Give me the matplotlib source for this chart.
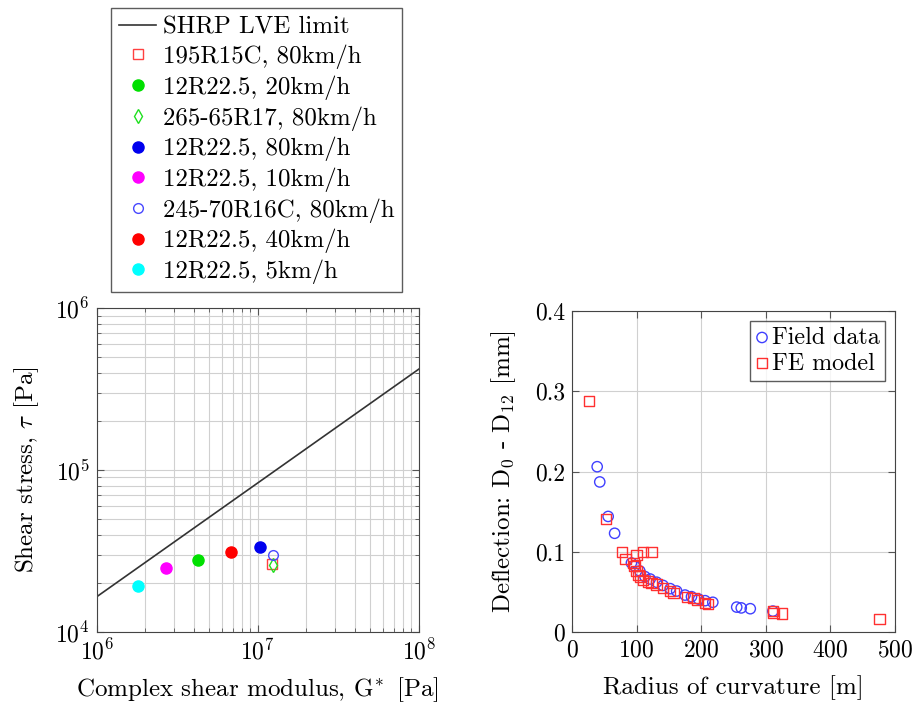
import numpy as np
import matplotlib
matplotlib.use("Agg")
import matplotlib.pyplot as plt
from matplotlib.ticker import LogLocator, NullFormatter

plt.rcParams['font.family'] = 'cmr10'
plt.rcParams['mathtext.fontset'] = 'cm'
plt.rcParams['axes.formatter.use_mathtext'] = True

# Left panel: SHRP limit line (end points) and tyre/speed cases
shrp_g = [1e6, 1e8]
shrp_tau = [1.65e4, 4.2e5]

cases = ['195R15C, 80km/h', '12R22.5, 20km/h', '265-65R17, 80km/h',
         '12R22.5, 80km/h', '12R22.5, 10km/h', '245-70R16C, 80km/h',
         '12R22.5, 40km/h', '12R22.5, 5km/h']
case_g = [1.23e7, 4.24e6, 1.24e7, 1.03e7, 2.70e6, 1.245e7, 6.79e6, 1.80e6]
case_tau = [2.62e4, 2.80e4, 2.58e4, 3.34e4, 2.49e4, 3.00e4, 3.14e4, 1.91e4]
case_marker = ['s', 'o', 'd', 'o', 'o', 'o', 'o', 'o']
case_color = ['#ff4040', '#00e000', '#20e020', '#0000ee', '#ff00ff', '#4848ff', '#ff0000', '#00ffff']
case_filled = [False, True, False, True, True, False, True, True]

# Right panel: deflection vs radius of curvature
field_r = [39, 43, 56, 66, 92, 97, 105, 113, 121, 131, 141, 152, 162, 175,
           185, 196, 206, 218, 255, 262, 276, 311]
field_d = [0.206, 0.187, 0.144, 0.123, 0.086, 0.082, 0.076, 0.069, 0.066,
           0.062, 0.058, 0.054, 0.051, 0.046, 0.044, 0.041, 0.039, 0.037,
           0.031, 0.030, 0.029, 0.026]
fe_r = [26, 53, 77, 83, 95, 97, 100, 100, 103, 105, 110, 110, 118, 123, 123,
        131, 141, 152, 157, 178, 188, 193, 206, 211, 311, 312, 325, 476]
fe_d = [0.288, 0.141, 0.100, 0.091, 0.086, 0.082, 0.096, 0.076, 0.071, 0.069,
        0.065, 0.100, 0.063, 0.061, 0.100, 0.059, 0.055, 0.051, 0.049, 0.044,
        0.042, 0.040, 0.036, 0.035, 0.026, 0.024, 0.023, 0.016]

fig = plt.figure(figsize=(9.14, 7.1), dpi=100)
ax1 = fig.add_axes([0.1058, 0.1099, 0.3523, 0.456])
ax2 = fig.add_axes([0.6258, 0.1099, 0.3534, 0.452])

ax1.plot(shrp_g, shrp_tau, color='#333333', linewidth=1.2, label='SHRP LVE limit')
for lab, g, t, m, c, f in zip(cases, case_g, case_tau, case_marker, case_color, case_filled):
    ax1.plot([g], [t], linestyle='none', marker=m, markersize=8 if f else 7,
             markerfacecolor=c if f else 'none', markeredgecolor=c,
             markeredgewidth=1.0, label=lab)

ax1.set_xscale('log')
ax1.set_yscale('log')
ax1.set_xlim(1e6, 1e8)
ax1.set_ylim(1e4, 1e6)
ax1.xaxis.set_minor_locator(LogLocator(base=10, subs=np.arange(2, 10)))
ax1.yaxis.set_minor_locator(LogLocator(base=10, subs=np.arange(2, 10)))
ax1.xaxis.set_minor_formatter(NullFormatter())
ax1.yaxis.set_minor_formatter(NullFormatter())
ax1.grid(True, which='both', color='#d0d0d0', linewidth=0.8)
ax1.set_axisbelow(True)
ax1.set_xlabel(r'Complex shear modulus, $\mathrm{G}^{\!*}$ [Pa]', fontsize=18, labelpad=8)
ax1.set_ylabel(r'Shear stress, $\tau$ [Pa]', fontsize=18, labelpad=10)

ax1.legend(loc='upper left', bbox_to_anchor=(0.1214, 0.989),
           bbox_transform=fig.transFigure, fontsize=17.9, frameon=True,
           fancybox=False, edgecolor='#333333', handlelength=1.5,
           handletextpad=0.25, labelspacing=0.25, borderpad=0.33,
           borderaxespad=0)

ax2.scatter(field_r, field_d, s=55, facecolors='none', edgecolors='#4040ff',
            linewidths=1.0, marker='o', label='Field data', zorder=3)
ax2.scatter(fe_r, fe_d, s=55, facecolors='none', edgecolors='#ff3030',
            linewidths=1.0, marker='s', label='FE model', zorder=3)
ax2.set_xlim(0, 500)
ax2.set_ylim(0, 0.4)
ax2.set_xticks([0, 100, 200, 300, 400, 500])
ax2.set_yticks([0, 0.1, 0.2, 0.3, 0.4])
ax2.set_yticklabels(['0', '0.1', '0.2', '0.3', '0.4'])
ax2.grid(True, color='#d0d0d0', linewidth=0.8)
ax2.set_axisbelow(True)
ax2.set_xlabel('Radius of curvature [m]', fontsize=18, labelpad=10)
ax2.set_ylabel('Deflection: D$_0$ - D$_{12}$ [mm]', fontsize=18, labelpad=12)
ax2.legend(loc='upper right', fontsize=17.3, frameon=True, fancybox=False,
           edgecolor='#333333', handlelength=0.5, handletextpad=0.15,
           labelspacing=0.15, borderpad=0.25, borderaxespad=0.4, scatterpoints=1)

for ax in (ax1, ax2):
    ax.tick_params(direction='in', which='both', labelsize=17, color='#555555',
                   top=True, right=True, pad=5)
    ax.tick_params(which='major', length=5)
    ax.tick_params(which='minor', length=3)
    for s in ax.spines.values():
        s.set_color('#444444')

fig.savefig('out.png', dpi=100)
